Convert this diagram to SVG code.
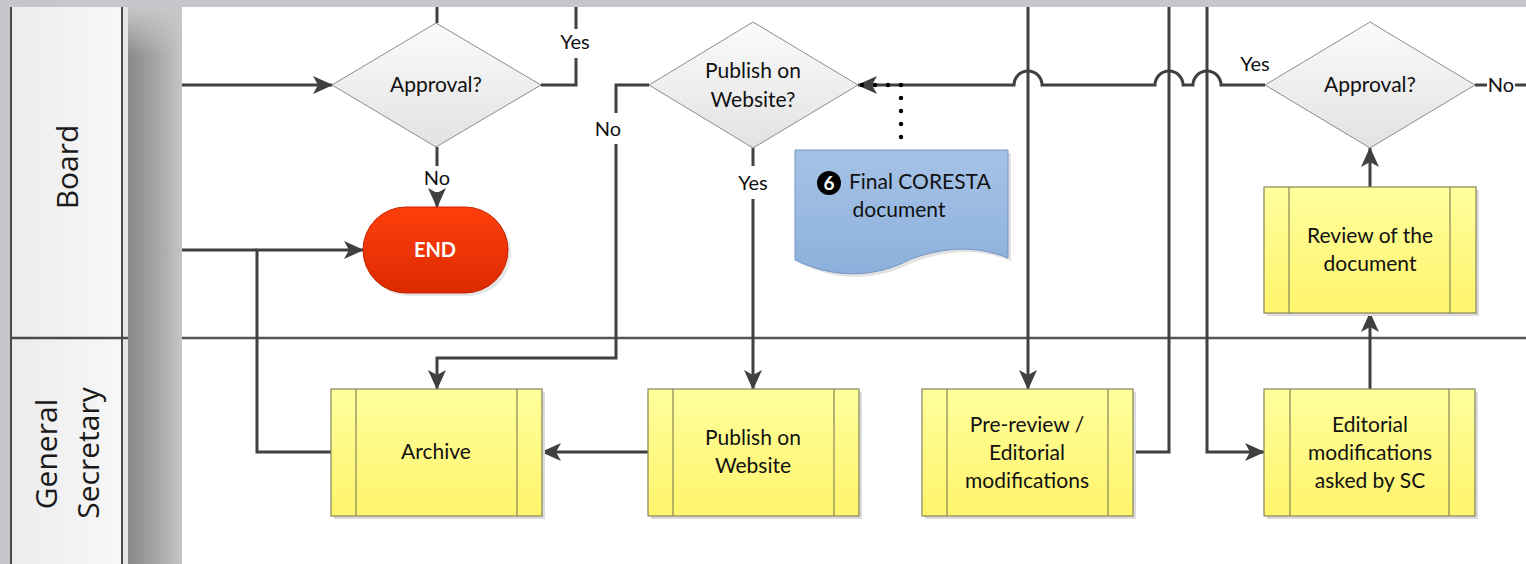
<svg xmlns="http://www.w3.org/2000/svg" width="1526" height="564" viewBox="0 0 1526 564">
<style>
.lane{font-family:"Open Sans","DejaVu Sans",sans-serif;font-size:30px;fill:#1a1a1a;text-anchor:middle}
.t{font-family:Lato,"Liberation Sans",sans-serif;font-size:21px;fill:#111;text-anchor:middle}
.lbl{font-family:Lato,"Liberation Sans",sans-serif;font-size:20px;fill:#111;text-anchor:middle}
.end{font-family:Lato,"Liberation Sans",sans-serif;font-size:20px;font-weight:bold;fill:#fff;text-anchor:middle}
.c{fill:none;stroke:#404040;stroke-width:3}
.box{fill:url(#yel);stroke:#85855a;stroke-width:1.2}
.bar{stroke:#85855a;stroke-width:1.2}
.shadow{fill:#dcdcdc}
.dia{fill:url(#gry);stroke:#8c8c8c;stroke-width:1}
</style>
<defs>
<linearGradient id="yel" x1="0" y1="0" x2="0" y2="1"><stop offset="0" stop-color="#ffff9c"/><stop offset="1" stop-color="#fff46c"/></linearGradient>
<linearGradient id="gry" x1="0" y1="0" x2="0" y2="1"><stop offset="0" stop-color="#fbfbfb"/><stop offset="1" stop-color="#e2e2e2"/></linearGradient>
<linearGradient id="red" x1="0" y1="0" x2="0" y2="1"><stop offset="0" stop-color="#ff3f0c"/><stop offset="1" stop-color="#dc2a00"/></linearGradient>
<linearGradient id="blu" x1="0" y1="0" x2="0" y2="1"><stop offset="0" stop-color="#a6c3e6"/><stop offset="1" stop-color="#8cb0dc"/></linearGradient>
<linearGradient id="strip" x1="0" y1="0" x2="1" y2="0"><stop offset="0" stop-color="#888"/><stop offset="0.35" stop-color="#9c9c9c"/><stop offset="0.7" stop-color="#b0b0b0"/><stop offset="1" stop-color="#c6c6c6"/></linearGradient>
<linearGradient id="stripTop" x1="0" y1="0" x2="0" y2="1"><stop offset="0" stop-color="#c8c8c8" stop-opacity="1"/><stop offset="1" stop-color="#c8c8c8" stop-opacity="0"/></linearGradient>
<linearGradient id="hdr" x1="0" y1="0" x2="1" y2="0"><stop offset="0" stop-color="#ececec"/><stop offset="1" stop-color="#f8f8f8"/></linearGradient>
<marker id="arr" markerUnits="userSpaceOnUse" markerWidth="20" markerHeight="18" refX="19" refY="9" orient="auto"><path d="M0,0 L20,9 L0,18 L5,9 Z" fill="#404040"/></marker>
</defs>

<!-- background frame -->
<rect x="0" y="0" width="1526" height="564" fill="#c5c7cc"/>
<rect x="182" y="7" width="1344" height="557" fill="#fff"/>
<rect x="11" y="7" width="117" height="557" fill="url(#hdr)"/>
<rect x="122" y="7" width="6" height="557" fill="#e4e4e4"/>
<rect x="128" y="7" width="54" height="557" fill="url(#strip)"/>
<rect x="128" y="7" width="54" height="50" fill="url(#stripTop)"/>
<line x1="11" y1="7" x2="11" y2="564" stroke="#4a4a4a" stroke-width="2"/>
<line x1="122" y1="7" x2="122" y2="564" stroke="#4a4a4a" stroke-width="2"/>
<line x1="11" y1="338" x2="128" y2="338" stroke="#4a4a4a" stroke-width="2.5"/>
<line x1="182" y1="338" x2="1526" y2="338" stroke="#555" stroke-width="2.5"/>

<g id="lane-board"><text class="lane" transform="translate(78,167) rotate(-90)">Board</text></g>
<g id="lane-gs">
<text class="lane" transform="translate(57,454) rotate(-90)">General</text>
<text class="lane" transform="translate(99,453) rotate(-90)">Secretary</text>
</g>

<!-- connectors -->
<g id="connectors">
<path class="c" d="M182,85 H332" marker-end="url(#arr)"/>
<path class="c" d="M437,23 V7"/>
<path class="c" d="M541,85 H576 V58 M576,29 V7"/>
<path class="c" d="M437,147 V166 M437,192 V207" marker-end="url(#arr)"/>
<path class="c" d="M182,250 H257"/>
<path class="c" d="M331,452 H257 V250 H363" marker-end="url(#arr)"/>
<path class="c" d="M649,85 H616 V113 M616,144 V358 H437 V389" marker-end="url(#arr)"/>
<path class="c" d="M753,148 V166 M753,199 V389" marker-end="url(#arr)"/>
<path class="c" d="M648,452 H542" marker-end="url(#arr)"/>
<path class="c" d="M1028,7 V389" marker-end="url(#arr)"/>
<path class="c" d="M1133,452 H1169 V7"/>
<path class="c" d="M1207,7 V452 H1264" marker-end="url(#arr)"/>
<path class="c" d="M1370,389 V313" marker-end="url(#arr)"/>
<path class="c" d="M1370,187 V148" marker-end="url(#arr)"/>
<path class="c" d="M1265,85 H1221 A14,14 0 0 0 1193,85 H1183 A14,14 0 0 0 1155,85 H1042 A14,14 0 0 0 1014,85 H858" marker-end="url(#arr)"/>
<path d="M901,137 V85 H860" fill="none" stroke="#000" stroke-width="4.5" stroke-linecap="round" stroke-dasharray="0 13"/>
<path class="c" d="M1475,85 H1487 M1515,85 H1526"/>
<text class="lbl" x="575" y="49">Yes</text>
<text class="lbl" x="437" y="185">No</text>
<text class="lbl" x="608" y="136">No</text>
<text class="lbl" x="753" y="190">Yes</text>
<text class="lbl" x="1255" y="71">Yes</text>
<text class="lbl" x="1501" y="92">No</text>
</g>

<!-- nodes -->
<g id="approval1">
<polygon class="dia" points="436,23 541,85 436,147 332,85"/>
<text class="t" x="436" y="92">Approval?</text>
</g>
<g id="end">
<rect x="366" y="210" width="145" height="86" rx="43" fill="#e6e6e6"/>
<rect x="363" y="207" width="145" height="86" rx="43" fill="url(#red)" stroke="#c22400" stroke-width="1"/>
<text class="end" x="435" y="257">END</text>
</g>
<g id="publish-decision">
<polygon class="dia" points="753,22 858,85 753,148 649,85"/>
<text class="t" x="753" y="78">Publish on</text>
<text class="t" x="753" y="107">Website?</text>
</g>
<g id="final-doc">
<path d="M799,153 H1011 V261 C978,248 948,250 914,262 C880,280 840,283 799,263 Z" fill="#e2e2e2"/>
<path d="M795,150 H1008 V258 C975,245 945,247 911,259 C877,277 837,280 795,260 Z" fill="url(#blu)" stroke="#7595c4" stroke-width="1"/>
<circle cx="829" cy="183" r="12" fill="#000"/>
<text x="829" y="190" font-family="Lato,'Liberation Sans',sans-serif" font-size="19" font-weight="bold" fill="#fff" text-anchor="middle">6</text>
<text class="t" x="849" y="189" text-anchor="start" style="text-anchor:start">Final CORESTA</text>
<text class="t" x="899" y="217">document</text>
</g>
<g id="archive">
<rect class="shadow" x="334" y="392" width="211" height="127"/>
<rect class="box" x="331" y="389" width="211" height="127"/>
<line class="bar" x1="356" y1="389" x2="356" y2="516"/><line class="bar" x1="517" y1="389" x2="517" y2="516"/>
<text class="t" x="436" y="459">Archive</text>
</g>
<g id="publish-website">
<rect class="shadow" x="651" y="392" width="211" height="127"/>
<rect class="box" x="648" y="389" width="211" height="127"/>
<line class="bar" x1="673" y1="389" x2="673" y2="516"/><line class="bar" x1="834" y1="389" x2="834" y2="516"/>
<text class="t" x="753" y="445">Publish on</text>
<text class="t" x="753" y="473">Website</text>
</g>
<g id="pre-review">
<rect class="shadow" x="925" y="392" width="211" height="127"/>
<rect class="box" x="922" y="389" width="211" height="127"/>
<line class="bar" x1="947" y1="389" x2="947" y2="516"/><line class="bar" x1="1108" y1="389" x2="1108" y2="516"/>
<text class="t" x="1027" y="432">Pre-review /</text>
<text class="t" x="1027" y="460">Editorial</text>
<text class="t" x="1027" y="488">modifications</text>
</g>
<g id="editorial-sc">
<rect class="shadow" x="1267" y="392" width="211" height="127"/>
<rect class="box" x="1264" y="389" width="211" height="127"/>
<line class="bar" x1="1290" y1="389" x2="1290" y2="516"/><line class="bar" x1="1449" y1="389" x2="1449" y2="516"/>
<text class="t" x="1370" y="432">Editorial</text>
<text class="t" x="1370" y="460">modifications</text>
<text class="t" x="1370" y="488">asked by SC</text>
</g>
<g id="review">
<rect class="shadow" x="1267" y="190" width="212" height="126"/>
<rect class="box" x="1264" y="187" width="212" height="126"/>
<line class="bar" x1="1289" y1="187" x2="1289" y2="313"/><line class="bar" x1="1450" y1="187" x2="1450" y2="313"/>
<text class="t" x="1370" y="243">Review of the</text>
<text class="t" x="1370" y="271">document</text>
</g>
<g id="approval2">
<polygon class="dia" points="1370,22 1475,85 1370,148 1265,85"/>
<text class="t" x="1370" y="92">Approval?</text>
</g>
</svg>
